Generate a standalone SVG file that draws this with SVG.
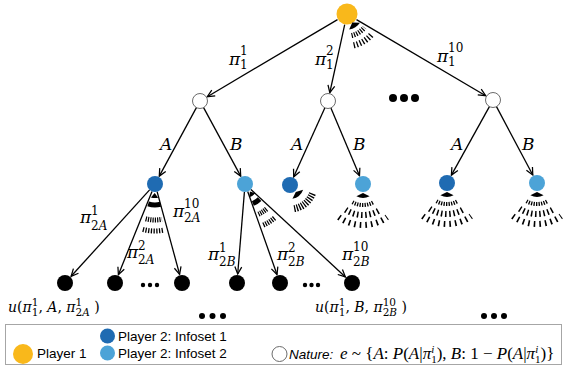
<svg xmlns="http://www.w3.org/2000/svg" width="563" height="367" viewBox="0 0 563 367">
<style>
.e{fill:none;stroke:#000;stroke-width:1.3;marker-end:url(#ah)}
.p1{fill:#F9B81B}
.i1{fill:#1F6BB2}
.i2{fill:#4CA3D7}
.nat{fill:#fff;stroke:#6b6b6b;stroke-width:1}
.leaf{fill:#000}
.t{fill:none;stroke:#000;stroke-linecap:butt}
.m{font-family:"DejaVu Serif","Liberation Serif",serif;font-size:17px;fill:#000}
.u{font-family:"DejaVu Serif","Liberation Serif",serif;font-size:14px;fill:#000}
.f{font-family:"Liberation Serif","DejaVu Serif",serif;font-size:17px;fill:#000}
.it{font-style:italic}
.sc{font-size:12px}
.ss{font-size:10.5px}
.lg{font-family:"Liberation Sans",Arial,sans-serif;font-size:13.5px;fill:#000}
</style>
<defs>
<marker id="ah" viewBox="0 0 10 10" refX="9" refY="5" markerWidth="9" markerHeight="9" markerUnits="userSpaceOnUse" orient="auto">
<path d="M1,1.2 L9,5 L1,8.8" fill="none" stroke="#000" stroke-width="1.4"/>
</marker>
<!-- small filled sector pointing at a node -->
<path id="wedge" d="M0,9 L-6.6,12.36 A14,14 0 0 0 6.6,12.36Z"/>
<path id="wedgeN" d="M0,9 L-3.62,13.52 A14,14 0 0 0 3.62,13.52Z"/>
<!-- wide fan of further branches -->
<g id="fanWide">
<use href="#wedge"/>
<path class="t" stroke-width="4" stroke-dasharray="1.3 1.2" d="M-10.5,18.19 A21,21 0 0 0 10.5,18.19"/>
<path class="t" stroke-width="6" stroke-dasharray="1.5 2.6" d="M-17.34,25.7 A31,31 0 0 0 17.34,25.7"/>
<path class="t" stroke-width="6" stroke-dasharray="1.6 4" d="M-24.1,33.17 A41,41 0 0 0 24.1,33.17"/>
</g>
</defs>

<rect width="563" height="367" fill="#fff"/>

<g id="connectors">
<path class="e" d="M337.5,19.6 L207.3,96.7"/>
<path class="e" d="M344.7,24.7 L329.8,92.7"/>
<path class="e" d="M356.5,19.6 L485.7,95.7"/>
<path class="e" d="M196.4,107.6 L159.3,176.1"/>
<path class="e" d="M203.6,107.6 L240.7,176.1"/>
<path class="e" d="M324.9,107.8 L293.7,176.8"/>
<path class="e" d="M330.9,107.9 L359.5,175.7"/>
<path class="e" d="M489.4,106.6 L451.4,175.1"/>
<path class="e" d="M496.5,106.6 L532.8,175"/>
<path class="e" d="M149.6,189.9 L71.1,276.3"/>
<path class="e" d="M152,191.4 L118.4,274.7"/>
<path class="e" d="M157.1,191.7 L179.6,274.3"/>
<path class="e" d="M244.4,192 L237.7,274"/>
<path class="e" d="M247.7,191.5 L277,274.5"/>
<path class="e" d="M250.9,189.4 L345.4,276.9"/>
</g>

<g id="edge-labels">
<text class="m it" x="229" y="65">π</text><text class="m sc" x="240" y="55">1</text><text class="m sc" x="240" y="69">1</text>
<text class="m it" x="315" y="65">π</text><text class="m sc" x="326" y="55">2</text><text class="m sc" x="326" y="69">1</text>
<text class="m it" x="437" y="62">π</text><text class="m sc" x="448" y="52">10</text><text class="m sc" x="448" y="66">1</text>
<text class="m it" x="160" y="150">A</text>
<text class="m it" x="230" y="150">B</text>
<text class="m it" x="291" y="150">A</text>
<text class="m it" x="353" y="150">B</text>
<text class="m it" x="451" y="150">A</text>
<text class="m it" x="522" y="150">B</text>
<text class="m it" x="80" y="223">π</text><text class="m sc" x="91" y="215">1</text><text class="m sc" x="91" y="230">2<tspan class="it">A</tspan></text>
<text class="m it" x="127" y="258">π</text><text class="m sc" x="138" y="250">2</text><text class="m sc" x="138" y="264">2<tspan class="it">A</tspan></text>
<text class="m it" x="173" y="217">π</text><text class="m sc" x="184" y="208">10</text><text class="m sc" x="184" y="222">2<tspan class="it">A</tspan></text>
<text class="m it" x="208" y="260">π</text><text class="m sc" x="219" y="252">1</text><text class="m sc" x="219" y="266">2<tspan class="it">B</tspan></text>
<text class="m it" x="277" y="260">π</text><text class="m sc" x="288" y="252">2</text><text class="m sc" x="288" y="266">2<tspan class="it">B</tspan></text>
<text class="m it" x="342" y="260">π</text><text class="m sc" x="353" y="251">10</text><text class="m sc" x="353" y="266">2<tspan class="it">B</tspan></text>
</g>

<!-- player 1 root with its fan of further strategies -->
<g id="root">
<circle class="p1" cx="347" cy="14" r="10.5"/>
<g transform="translate(347,14) rotate(-32)">
<path d="M0,10 L-6.35,14.25 A15.6,15.6 0 0 0 6.35,14.25Z"/>
<path class="t" stroke-width="5" stroke-dasharray="1.2 1.3" d="M-7.52,20.67 A22,22 0 0 0 7.52,20.67"/>
<path class="t" stroke-width="6" stroke-dasharray="1.3 1.9" d="M-10.94,30.07 A32,32 0 0 0 10.94,30.07"/>
</g>
</g>

<g id="nature1"><circle class="nat" cx="200" cy="101" r="7.5"/></g>
<g id="nature2"><circle class="nat" cx="328" cy="101" r="7.5"/></g>
<g id="nature10"><circle class="nat" cx="493" cy="100" r="7.5"/></g>
<g id="more-nature">
<circle cx="393" cy="98" r="4"/><circle cx="404" cy="98" r="4"/><circle cx="415" cy="98" r="4"/>
</g>

<g id="p2-1A">
<circle class="i1" cx="155" cy="184" r="8"/>
<g transform="translate(155,184) rotate(2)">
<use href="#wedgeN"/>
<path class="t" stroke-width="5" d="M-6.14,20.08 A21,21 0 0 0 6.14,20.08"/>
<path class="t" stroke-width="5" stroke-dasharray="1.2 1.1" d="M-8.1,35.08 A36,36 0 0 0 8.1,35.08"/>
<path class="t" stroke-width="5" stroke-dasharray="1.3 1.4" d="M-10.58,45.8 A47,47 0 0 0 10.58,45.8"/>
</g>
</g>
<g id="p2-1B">
<circle class="i2" cx="245" cy="184" r="8"/>
<g transform="translate(245,184) rotate(-33)">
<use href="#wedgeN"/>
<path class="t" stroke-width="5" d="M-4.01,20.61 A21,21 0 0 0 4.01,20.61"/>
<path class="t" stroke-width="5" stroke-dasharray="1.2 0.9" d="M-5.16,32.59 A33,33 0 0 0 5.16,32.59"/>
<path class="t" stroke-width="5" stroke-dasharray="1.3 1.1" d="M-7.04,44.45 A45,45 0 0 0 7.04,44.45"/>
</g>
</g>
<g id="p2-2A">
<circle class="i1" cx="290" cy="185" r="8"/>
<g transform="translate(290,185) rotate(-40)">
<path d="M0,9 L-7,12.12 A14,14 0 0 0 7,12.12Z"/>
<path class="t" stroke-width="7" stroke-dasharray="1.3 1.3" d="M-12,20.78 A24,24 0 0 0 12,20.78"/>
</g>
</g>
<g id="p2-2B">
<circle class="i2" cx="363" cy="184" r="8"/>
<use href="#fanWide" transform="translate(363,184)"/>
</g>
<g id="p2-10A">
<circle class="i1" cx="447" cy="183" r="8"/>
<use href="#fanWide" transform="translate(447,183)"/>
</g>
<g id="p2-10B">
<circle class="i2" cx="537" cy="183" r="8"/>
<use href="#fanWide" transform="translate(537,183)"/>
</g>

<g id="leaves">
<circle class="leaf" cx="65" cy="283" r="8"/>
<circle class="leaf" cx="115" cy="283" r="8"/>
<circle class="leaf" cx="182" cy="283" r="8"/>
<circle class="leaf" cx="237" cy="283" r="8"/>
<circle class="leaf" cx="280" cy="283" r="8"/>
<circle class="leaf" cx="352" cy="283" r="8"/>
<circle cx="143" cy="285" r="2.2"/><circle cx="150" cy="285" r="2.2"/><circle cx="157" cy="285" r="2.2"/>
<circle cx="305" cy="285" r="2.2"/><circle cx="311.5" cy="285" r="2.2"/><circle cx="318" cy="285" r="2.2"/>
<circle cx="202" cy="316" r="3"/><circle cx="212.5" cy="316" r="3"/><circle cx="223" cy="316" r="3"/>
<circle cx="484" cy="316" r="3"/><circle cx="494" cy="316" r="3"/><circle cx="504" cy="316" r="3"/>
</g>

<g id="payoffs">
<text class="u" x="8" y="312"><tspan class="it">u</tspan>(<tspan class="it">π</tspan><tspan class="ss" dy="-6">1</tspan><tspan class="ss" dx="-6.7" dy="10">1</tspan><tspan dy="-4">, </tspan><tspan class="it">A</tspan>, <tspan class="it">π</tspan><tspan class="ss" dy="-6">1</tspan><tspan class="ss" dx="-6.7" dy="10">2<tspan class="it">A</tspan></tspan><tspan dy="-4"> )</tspan></text>
<text class="u" x="315" y="312"><tspan class="it">u</tspan>(<tspan class="it">π</tspan><tspan class="ss" dy="-6">1</tspan><tspan class="ss" dx="-6.7" dy="10">1</tspan><tspan dy="-4">, </tspan><tspan class="it">B</tspan>, <tspan class="it">π</tspan><tspan class="ss" dy="-6">10</tspan><tspan class="ss" dx="-13.4" dy="10">2<tspan class="it">B</tspan></tspan><tspan dy="-4"> )</tspan></text>
</g>

<g id="legend">
<rect x="5.5" y="324.5" width="556" height="40" fill="none" stroke="#a6a6a6" stroke-width="1"/>
<circle class="p1" cx="23" cy="354" r="10"/>
<text class="lg" x="37" y="358">Player 1</text>
<circle class="i1" cx="107.5" cy="336" r="7.5"/>
<text class="lg" x="118" y="341">Player 2: Infoset 1</text>
<circle class="i2" cx="107.5" cy="353" r="7.5"/>
<text class="lg" x="118" y="358">Player 2: Infoset 2</text>
<circle class="nat" cx="279.5" cy="354" r="7.5"/>
<text class="lg it" x="289" y="359">Nature:</text>
<text class="f" x="340" y="359"><tspan class="it">e</tspan> ~ {<tspan class="it">A</tspan>: <tspan class="it">P</tspan>(<tspan class="it">A</tspan>|<tspan class="it">π</tspan><tspan class="it" font-size="11" dy="-6">i</tspan><tspan font-size="11" dx="-3.1" dy="10">1</tspan><tspan dy="-4">), <tspan class="it">B</tspan>: 1 − <tspan class="it">P</tspan>(<tspan class="it">A</tspan>|<tspan class="it">π</tspan></tspan><tspan class="it" font-size="11" dy="-6">i</tspan><tspan font-size="11" dx="-3.1" dy="10">1</tspan><tspan dy="-4">)}</tspan></text>
</g>
</svg>
